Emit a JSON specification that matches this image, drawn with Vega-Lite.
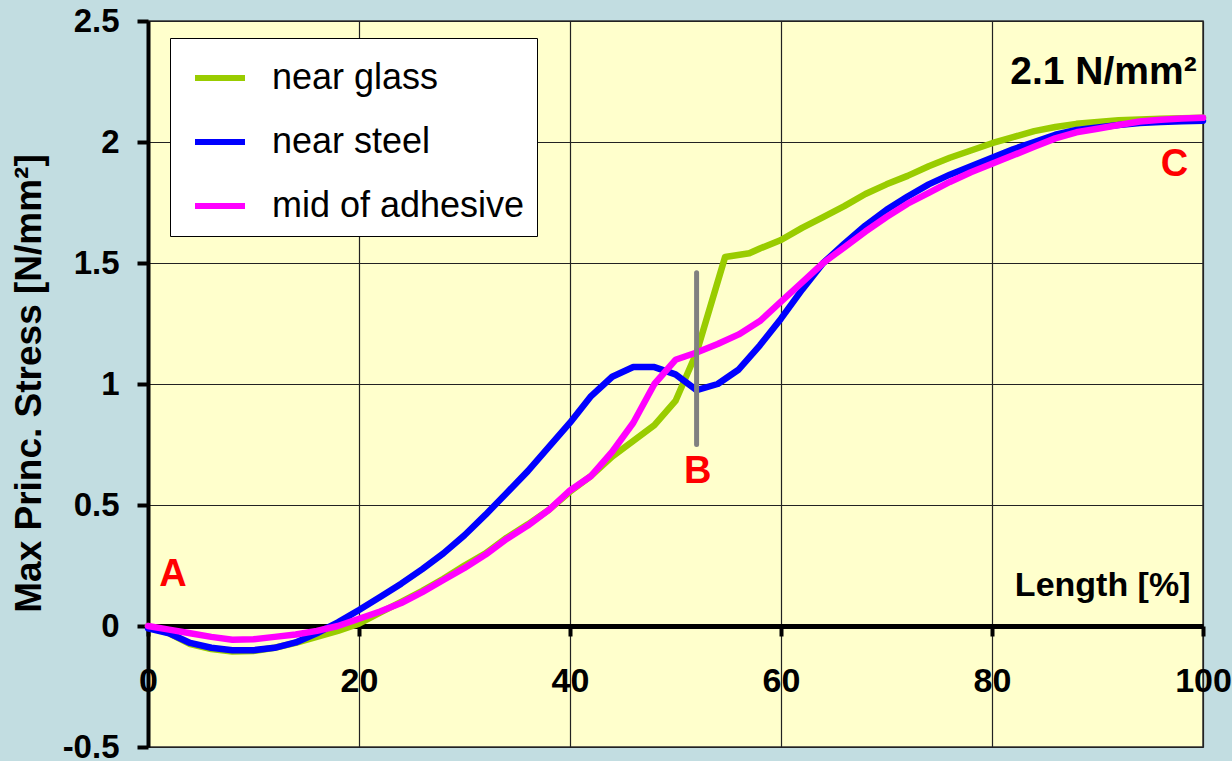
{
  "$schema": "https://vega.github.io/schema/vega-lite/v6.json",
  "width": 1055,
  "height": 726,
  "autosize": {"type": "none"},
  "padding": {"left": 148, "top": 21, "right": 29, "bottom": 14},
  "background": "#C2DDE1",
  "config": {
    "font": "Liberation Sans",
    "view": {"fill": "#FFFFCC", "stroke": "#333333", "strokeWidth": 1.5}
  },
  "datasets": {
    "curves": [
      {"series": "near glass", "x": 0, "y": 0},
      {"series": "near glass", "x": 2, "y": -0.03},
      {"series": "near glass", "x": 4, "y": -0.075},
      {"series": "near glass", "x": 6, "y": -0.095},
      {"series": "near glass", "x": 8, "y": -0.105},
      {"series": "near glass", "x": 10, "y": -0.103},
      {"series": "near glass", "x": 12, "y": -0.09},
      {"series": "near glass", "x": 14, "y": -0.07},
      {"series": "near glass", "x": 16, "y": -0.045},
      {"series": "near glass", "x": 18, "y": -0.02},
      {"series": "near glass", "x": 20, "y": 0.01},
      {"series": "near glass", "x": 22, "y": 0.055},
      {"series": "near glass", "x": 24, "y": 0.1},
      {"series": "near glass", "x": 26, "y": 0.145},
      {"series": "near glass", "x": 28, "y": 0.195},
      {"series": "near glass", "x": 30, "y": 0.25},
      {"series": "near glass", "x": 32, "y": 0.3},
      {"series": "near glass", "x": 34, "y": 0.365},
      {"series": "near glass", "x": 36, "y": 0.42},
      {"series": "near glass", "x": 38, "y": 0.48},
      {"series": "near glass", "x": 40, "y": 0.555},
      {"series": "near glass", "x": 42, "y": 0.62},
      {"series": "near glass", "x": 44, "y": 0.7},
      {"series": "near glass", "x": 46, "y": 0.765},
      {"series": "near glass", "x": 48, "y": 0.83},
      {"series": "near glass", "x": 50, "y": 0.93},
      {"series": "near glass", "x": 52, "y": 1.13},
      {"series": "near glass", "x": 54.7, "y": 1.525},
      {"series": "near glass", "x": 57, "y": 1.54},
      {"series": "near glass", "x": 58, "y": 1.56},
      {"series": "near glass", "x": 60, "y": 1.595},
      {"series": "near glass", "x": 62, "y": 1.645},
      {"series": "near glass", "x": 64, "y": 1.69},
      {"series": "near glass", "x": 66, "y": 1.735},
      {"series": "near glass", "x": 68, "y": 1.785},
      {"series": "near glass", "x": 70, "y": 1.825},
      {"series": "near glass", "x": 72, "y": 1.86},
      {"series": "near glass", "x": 74, "y": 1.9},
      {"series": "near glass", "x": 76, "y": 1.935},
      {"series": "near glass", "x": 78, "y": 1.965},
      {"series": "near glass", "x": 80, "y": 1.995},
      {"series": "near glass", "x": 82, "y": 2.02},
      {"series": "near glass", "x": 84, "y": 2.045},
      {"series": "near glass", "x": 86, "y": 2.062},
      {"series": "near glass", "x": 88, "y": 2.075},
      {"series": "near glass", "x": 90, "y": 2.083},
      {"series": "near glass", "x": 92, "y": 2.09},
      {"series": "near glass", "x": 94, "y": 2.093},
      {"series": "near glass", "x": 96, "y": 2.096},
      {"series": "near glass", "x": 98, "y": 2.098},
      {"series": "near glass", "x": 100, "y": 2.1},
      {"series": "near steel", "x": 0, "y": -0.01},
      {"series": "near steel", "x": 2, "y": -0.03},
      {"series": "near steel", "x": 4, "y": -0.07},
      {"series": "near steel", "x": 6, "y": -0.09},
      {"series": "near steel", "x": 8, "y": -0.1},
      {"series": "near steel", "x": 10, "y": -0.1},
      {"series": "near steel", "x": 12, "y": -0.09},
      {"series": "near steel", "x": 14, "y": -0.068},
      {"series": "near steel", "x": 16, "y": -0.03},
      {"series": "near steel", "x": 18, "y": 0.015},
      {"series": "near steel", "x": 20, "y": 0.066},
      {"series": "near steel", "x": 22, "y": 0.12},
      {"series": "near steel", "x": 24, "y": 0.175},
      {"series": "near steel", "x": 26, "y": 0.235},
      {"series": "near steel", "x": 28, "y": 0.3},
      {"series": "near steel", "x": 30, "y": 0.375},
      {"series": "near steel", "x": 32, "y": 0.46},
      {"series": "near steel", "x": 34, "y": 0.55},
      {"series": "near steel", "x": 36, "y": 0.64},
      {"series": "near steel", "x": 38, "y": 0.74},
      {"series": "near steel", "x": 40, "y": 0.84},
      {"series": "near steel", "x": 42, "y": 0.95},
      {"series": "near steel", "x": 44, "y": 1.03},
      {"series": "near steel", "x": 46, "y": 1.07},
      {"series": "near steel", "x": 48, "y": 1.07},
      {"series": "near steel", "x": 50, "y": 1.04},
      {"series": "near steel", "x": 52, "y": 0.975},
      {"series": "near steel", "x": 54, "y": 1.0},
      {"series": "near steel", "x": 56, "y": 1.06},
      {"series": "near steel", "x": 58, "y": 1.16},
      {"series": "near steel", "x": 60, "y": 1.27},
      {"series": "near steel", "x": 62, "y": 1.39},
      {"series": "near steel", "x": 64, "y": 1.5},
      {"series": "near steel", "x": 66, "y": 1.58},
      {"series": "near steel", "x": 68, "y": 1.655},
      {"series": "near steel", "x": 70, "y": 1.72},
      {"series": "near steel", "x": 72, "y": 1.775},
      {"series": "near steel", "x": 74, "y": 1.825},
      {"series": "near steel", "x": 76, "y": 1.865},
      {"series": "near steel", "x": 78, "y": 1.9},
      {"series": "near steel", "x": 80, "y": 1.935},
      {"series": "near steel", "x": 82, "y": 1.97},
      {"series": "near steel", "x": 84, "y": 2.0},
      {"series": "near steel", "x": 86, "y": 2.03},
      {"series": "near steel", "x": 88, "y": 2.05},
      {"series": "near steel", "x": 90, "y": 2.06},
      {"series": "near steel", "x": 92, "y": 2.07},
      {"series": "near steel", "x": 94, "y": 2.078},
      {"series": "near steel", "x": 96, "y": 2.083},
      {"series": "near steel", "x": 98, "y": 2.086},
      {"series": "near steel", "x": 100, "y": 2.088},
      {"series": "mid of adhesive", "x": 0, "y": 0},
      {"series": "mid of adhesive", "x": 2, "y": -0.015},
      {"series": "mid of adhesive", "x": 4, "y": -0.03},
      {"series": "mid of adhesive", "x": 6, "y": -0.045},
      {"series": "mid of adhesive", "x": 8, "y": -0.057},
      {"series": "mid of adhesive", "x": 10, "y": -0.055},
      {"series": "mid of adhesive", "x": 12, "y": -0.045},
      {"series": "mid of adhesive", "x": 14, "y": -0.035},
      {"series": "mid of adhesive", "x": 16, "y": -0.02},
      {"series": "mid of adhesive", "x": 18, "y": 0.0},
      {"series": "mid of adhesive", "x": 20, "y": 0.03},
      {"series": "mid of adhesive", "x": 22, "y": 0.06},
      {"series": "mid of adhesive", "x": 24, "y": 0.095},
      {"series": "mid of adhesive", "x": 26, "y": 0.14},
      {"series": "mid of adhesive", "x": 28, "y": 0.19},
      {"series": "mid of adhesive", "x": 30, "y": 0.24},
      {"series": "mid of adhesive", "x": 32, "y": 0.295},
      {"series": "mid of adhesive", "x": 34, "y": 0.36},
      {"series": "mid of adhesive", "x": 36, "y": 0.415},
      {"series": "mid of adhesive", "x": 38, "y": 0.48},
      {"series": "mid of adhesive", "x": 40, "y": 0.56},
      {"series": "mid of adhesive", "x": 42, "y": 0.62},
      {"series": "mid of adhesive", "x": 44, "y": 0.72},
      {"series": "mid of adhesive", "x": 46, "y": 0.84},
      {"series": "mid of adhesive", "x": 48, "y": 1.0},
      {"series": "mid of adhesive", "x": 50, "y": 1.1},
      {"series": "mid of adhesive", "x": 52, "y": 1.13},
      {"series": "mid of adhesive", "x": 54, "y": 1.165},
      {"series": "mid of adhesive", "x": 56, "y": 1.205},
      {"series": "mid of adhesive", "x": 58, "y": 1.26},
      {"series": "mid of adhesive", "x": 60, "y": 1.34},
      {"series": "mid of adhesive", "x": 62, "y": 1.42},
      {"series": "mid of adhesive", "x": 64, "y": 1.5},
      {"series": "mid of adhesive", "x": 66, "y": 1.565},
      {"series": "mid of adhesive", "x": 68, "y": 1.63},
      {"series": "mid of adhesive", "x": 70, "y": 1.69},
      {"series": "mid of adhesive", "x": 72, "y": 1.745},
      {"series": "mid of adhesive", "x": 74, "y": 1.79},
      {"series": "mid of adhesive", "x": 76, "y": 1.835},
      {"series": "mid of adhesive", "x": 78, "y": 1.875},
      {"series": "mid of adhesive", "x": 80, "y": 1.91},
      {"series": "mid of adhesive", "x": 82, "y": 1.945},
      {"series": "mid of adhesive", "x": 84, "y": 1.98},
      {"series": "mid of adhesive", "x": 86, "y": 2.015},
      {"series": "mid of adhesive", "x": 88, "y": 2.04},
      {"series": "mid of adhesive", "x": 90, "y": 2.055},
      {"series": "mid of adhesive", "x": 92, "y": 2.07},
      {"series": "mid of adhesive", "x": 94, "y": 2.085},
      {"series": "mid of adhesive", "x": 96, "y": 2.092},
      {"series": "mid of adhesive", "x": 98, "y": 2.097},
      {"series": "mid of adhesive", "x": 100, "y": 2.1}
    ],
    "marker": [{"x": 52.0, "y": 1.46, "y2": 0.75}],
    "letters": [
      {"label": "A", "x": 2.37, "y": 0.21},
      {"label": "B", "x": 52.1, "y": 0.636},
      {"label": "C", "x": 97.3, "y": 1.905}
    ],
    "note": [{"label": "2.1 N/mm²", "x": 99.4, "y": 2.29}]
  },
  "layer": [
    {
      "data": {"name": "curves"},
      "mark": {"type": "line", "strokeWidth": 6.5, "strokeCap": "round", "strokeJoin": "round"},
      "encoding": {
        "x": {
          "field": "x", "type": "quantitative",
          "scale": {"domain": [0, 100], "nice": false, "zero": false},
          "axis": {
            "values": [0, 20, 40, 60, 80, 100],
            "offset": -121,
            "grid": true, "gridColor": "#222222", "gridWidth": 1.2,
            "domainColor": "#000000", "domainWidth": 5,
            "tickColor": "#000000", "tickWidth": 4, "tickSize": 10,
            "labelFont": "Liberation Sans", "labelFontSize": 34, "labelFontWeight": "bold", "labelColor": "#000000",
            "labelPadding": 28, "labelFlush": false, "labelOverlap": false,
            "title": "Length [%]",
            "titleFont": "Liberation Sans", "titleFontSize": 34, "titleFontWeight": "bold", "titleColor": "#000000",
            "titleAlign": "right", "titleBaseline": "alphabetic",
            "titleX": 1042, "titleY": -31
          }
        },
        "y": {
          "field": "y", "type": "quantitative",
          "scale": {"domain": [-0.5, 2.5], "nice": false, "zero": false},
          "axis": {
            "values": [-0.5, 0, 0.5, 1, 1.5, 2, 2.5],
            "labelExpr": "'' + datum.value",
            "grid": true, "gridColor": "#222222", "gridWidth": 1.2,
            "domainColor": "#000000", "domainWidth": 4,
            "tickColor": "#000000", "tickWidth": 4, "tickSize": 11,
            "labelFont": "Liberation Sans", "labelFontSize": 33, "labelFontWeight": "bold", "labelColor": "#000000",
            "labelPadding": 18, "labelFlush": false, "labelOverlap": false,
            "title": "Max Princ. Stress [N/mm²]",
            "titleFont": "Liberation Sans", "titleFontSize": 37, "titleFontWeight": "bold", "titleColor": "#000000",
            "titleAngle": -90, "titleAlign": "center", "titleBaseline": "alphabetic",
            "titleX": -108, "titleY": 362
          }
        },
        "color": {
          "field": "series", "type": "nominal",
          "scale": {"domain": ["near glass", "near steel", "mid of adhesive"], "range": ["#99CC00", "#0000FF", "#FF00FF"]},
          "legend": {
            "title": null,
            "orient": "none", "legendX": 22, "legendY": 17,
            "symbolType": "stroke", "symbolSize": 2500, "symbolStrokeWidth": 6,
            "symbolOffset": 10,
            "rowPadding": 18,
            "padding": 12,
            "labelFont": "Liberation Sans", "labelFontSize": 36, "labelColor": "#000000", "labelOffset": 24, "labelLimit": 400,
            "fillColor": "#FFFFFF", "strokeColor": "#000000"
          }
        }
      }
    },
    {
      "data": {"name": "marker"},
      "mark": {"type": "rule", "color": "#808080", "strokeWidth": 5, "strokeCap": "round"},
      "encoding": {
        "x": {"field": "x", "type": "quantitative"},
        "y": {"field": "y", "type": "quantitative"},
        "y2": {"field": "y2"}
      }
    },
    {
      "data": {"name": "letters"},
      "mark": {"type": "text", "color": "#FF0000", "font": "Liberation Sans", "fontSize": 38, "fontWeight": "bold", "align": "center", "baseline": "middle"},
      "encoding": {
        "x": {"field": "x", "type": "quantitative"},
        "y": {"field": "y", "type": "quantitative"},
        "text": {"field": "label"}
      }
    },
    {
      "data": {"name": "note"},
      "mark": {"type": "text", "color": "#000000", "font": "Liberation Sans", "fontSize": 39, "fontWeight": "bold", "align": "right", "baseline": "middle"},
      "encoding": {
        "x": {"field": "x", "type": "quantitative"},
        "y": {"field": "y", "type": "quantitative"},
        "text": {"field": "label"}
      }
    }
  ]
}
